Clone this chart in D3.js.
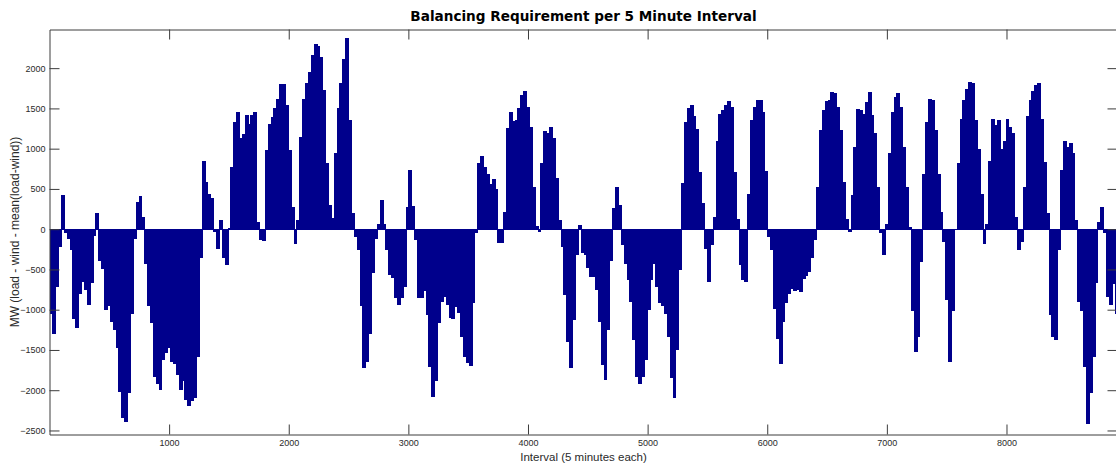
<!DOCTYPE html>
<html>
<head>
<meta charset="utf-8">
<script src="https://cdn.jsdelivr.net/npm/d3@7"></script>
<style>
  html, body { margin: 0; padding: 0; background: #fff; }
  svg { display: block; }
</style>
</head>
<body>
<svg id="chart" width="1116" height="465"></svg>
<script>
// Chart text
const titleText = "Balancing Requirement per 5 Minute Interval";
const xLabelText = "Interval (5 minutes each)";
const yLabelText = "MW (load - wind - mean(load-wind))";

// One month of 5-minute intervals, summarised in 2-hour blocks (24 intervals each)
const totalIntervals = 8928;
const intervalsPerBar = 24;

// Tick values
const xTicks = [1000, 2000, 3000, 4000, 5000, 6000, 7000, 8000];
const yTicks = [-2500, -2000, -1500, -1000, -500, 0, 500, 1000, 1500, 2000];
const yDomain = [-2550, 2480];

// Balancing requirement (MW) per 2-hour block
const balancingMW = [
  -1050, -1300, -720, -220, 420, -50, -120, -260, -1110, -1230,
  -800, -650, -760, -940, -670, -80, 200, -400, -490, -1000,
  -960, -1150, -1250, -1480, -2020, -2350, -2400, -2040, -1050, -120,
  340, 410, 150, -430, -960, -1170, -1830, -1920, -2000, -1630,
  -1540, -1480, -1650, -1680, -1810, -2000, -1880, -2120, -2200, -2140,
  -2100, -1590, -360, 850, 590, 435, 390, -30, -250, 120,
  -360, -450, 10, 770, 1330, 1460, 1130, 1180, 1420, 1310,
  1420, 1450, 90, -140, -150, 980, 1310, 1390, 1500, 1620,
  1800, 1800, 1540, 980, 280, -190, 110, 1150, 1620, 1810,
  1950, 2160, 2300, 2270, 2140, 1730, 820, 300, 140, 940,
  1500, 1820, 2110, 2380, 1350, 200, -100, -260, -960, -1730,
  -1650, -1300, -550, -120, 70, 360, 70, -260, -570, -610,
  -860, -940, -860, -720, 280, 730, 290, -140, -860, -850,
  -770, -1070, -1710, -2080, -1880, -1170, -900, -840, -940, -1100,
  -1110, -970, -1040, -1340, -1590, -1660, -1700, -920, -50, 820,
  910, 770, 690, 560, 620, 500, -170, -170, 215, 1260,
  1450, 1340, 1360, 1510, 1670, 1710, 1520, 1270, 530, 40,
  -30, 820, 1220, 1200, 1270, 1130, 630, 110, -220, -820,
  -1400, -1730, -1130, -320, 50, -300, -320, -480, -590, -600,
  -760, -1150, -1690, -1870, -1250, -390, 260, 530, 300, -200,
  -430, -630, -900, -1380, -1830, -1920, -1830, -1630, -1000, -630,
  -430, -720, -920, -960, -1050, -1340, -1850, -2100, -1500, -510,
  570, 1330, 1500, 1540, 1400, 1250, 710, 320, -240, -650,
  -200, 150, 1100, 1430, 1480, 1540, 1590, 1520, 710, 130,
  -450, -630, -650, 440, 1350, 1520, 1610, 1600, 1460, 720,
  -100, -260, -990, -1360, -1680, -1150, -920, -810, -740, -770,
  -760, -780, -620, -580, -530, -360, -140, 530, 1230, 1480,
  1590, 1600, 1700, 1690, 1520, 1230, 590, 130, -30, 420,
  1020, 1490, 1480, 1430, 1580, 1700, 1420, 1190, 530, -50,
  -320, 70, 940, 1460, 1640, 1690, 1520, 1020, 530, 30,
  -1010, -1520, -1340, -410, 690, 1330, 1620, 1610, 1230, 690,
  215, -160, -880, -1650, -1010, -10, 820, 1370, 1600, 1740,
  1830, 1810, 1350, 1000, 440, -180, 70, 850, 1370, 1300,
  1350, 1000, 1100, 1370, 1270, 1200, 150, -260, -160, 530,
  1400, 1600, 1710, 1790, 1810, 1370, 840, 200, -1070, -1340,
  -1380, -260, 730, 1100, 1020, 1070, 940, 110, -900, -1010,
  -1710, -2420, -2040, -1590, -670, 90, 280, -50, -840, -940,
  -680, -1050
];

// Layout
const width = 1116, height = 465;
const plot = { left: 49.5, right: 1117.5, top: 29.5, bottom: 434.5 };
const barColor = "#00008c";
const axisColor = "#3c3c3c";
const labelFont = "'Liberation Sans', Arial, sans-serif";

const svg = d3.select("#chart");

const x = d3.scaleLinear().domain([0, totalIntervals]).range([plot.left, plot.right]);
const y = d3.scaleLinear().domain(yDomain).range([plot.bottom, plot.top]);

svg.append("defs").append("clipPath").attr("id", "plot-clip")
  .append("rect")
  .attr("x", plot.left).attr("y", plot.top)
  .attr("width", plot.right - plot.left).attr("height", plot.bottom - plot.top);

// Bars: each block spans intervalsPerBar intervals, drawn from zero to its value
const bars = balancingMW.map((v, i) => ({ start: i * intervalsPerBar, end: (i + 1) * intervalsPerBar, value: v }));

const barLayer = svg.append("g")
  .attr("clip-path", "url(#plot-clip)")
  .attr("shape-rendering", "crispEdges");

barLayer.selectAll("rect")
  .data(bars)
  .join("rect")
  .attr("x", d => x(d.start))
  .attr("width", d => x(d.end) - x(d.start) + 1)
  .attr("y", d => y(Math.max(0, d.value)))
  .attr("height", d => Math.abs(y(d.value) - y(0)))
  .attr("fill", barColor);

// Bar baseline
barLayer.append("line")
  .attr("x1", plot.left).attr("x2", plot.right)
  .attr("y1", Math.round(y(0)) + 0.5).attr("y2", Math.round(y(0)) + 0.5)
  .attr("stroke", barColor).attr("stroke-width", 1);

// Axes with inward ticks on all four sides
function styleAxis(g) {
  g.select(".domain").attr("stroke", axisColor).attr("stroke-width", 1);
  g.selectAll(".tick line").attr("stroke", axisColor).attr("stroke-width", 1);
  g.selectAll(".tick text")
    .attr("fill", "#2a2a2a")
    .style("font-family", labelFont)
    .style("font-size", "9px");
}

svg.append("g")
  .attr("transform", `translate(0,${plot.bottom})`)
  .call(d3.axisBottom(x).tickValues(xTicks).tickSizeInner(-10).tickSizeOuter(0).tickPadding(5).tickFormat(d3.format("d")))
  .call(styleAxis);

svg.append("g")
  .attr("transform", `translate(0,${plot.top})`)
  .call(d3.axisTop(x).tickValues(xTicks).tickSizeInner(-10).tickSizeOuter(0).tickFormat(""))
  .call(styleAxis);

svg.append("g")
  .attr("transform", `translate(${plot.left},0)`)
  .call(d3.axisLeft(y).tickValues(yTicks).tickSizeInner(-10).tickSizeOuter(0).tickPadding(4).tickFormat(d3.format("d")))
  .call(styleAxis);

svg.append("g")
  .attr("transform", `translate(${plot.right},0)`)
  .call(d3.axisRight(y).tickValues(yTicks).tickSizeInner(-10).tickSizeOuter(0).tickFormat(""))
  .call(styleAxis);

// Title and axis labels
const centerX = (plot.left + plot.right) / 2;

svg.append("text")
  .attr("x", centerX).attr("y", 21)
  .attr("text-anchor", "middle")
  .style("font-family", "'DejaVu Sans', Verdana, sans-serif")
  .style("font-weight", "bold")
  .style("font-size", "13.6px")
  .attr("fill", "#000")
  .text(titleText);

svg.append("text")
  .attr("x", centerX).attr("y", 461)
  .attr("text-anchor", "middle")
  .style("font-family", labelFont)
  .style("font-size", "11.5px")
  .attr("fill", "#2a2a2a")
  .text(xLabelText);

svg.append("text")
  .attr("transform", `translate(19,${(plot.top + plot.bottom) / 2}) rotate(-90)`)
  .attr("text-anchor", "middle")
  .style("font-family", labelFont)
  .style("font-size", "12px")
  .attr("fill", "#2a2a2a")
  .text(yLabelText);
</script>
</body>
</html>
